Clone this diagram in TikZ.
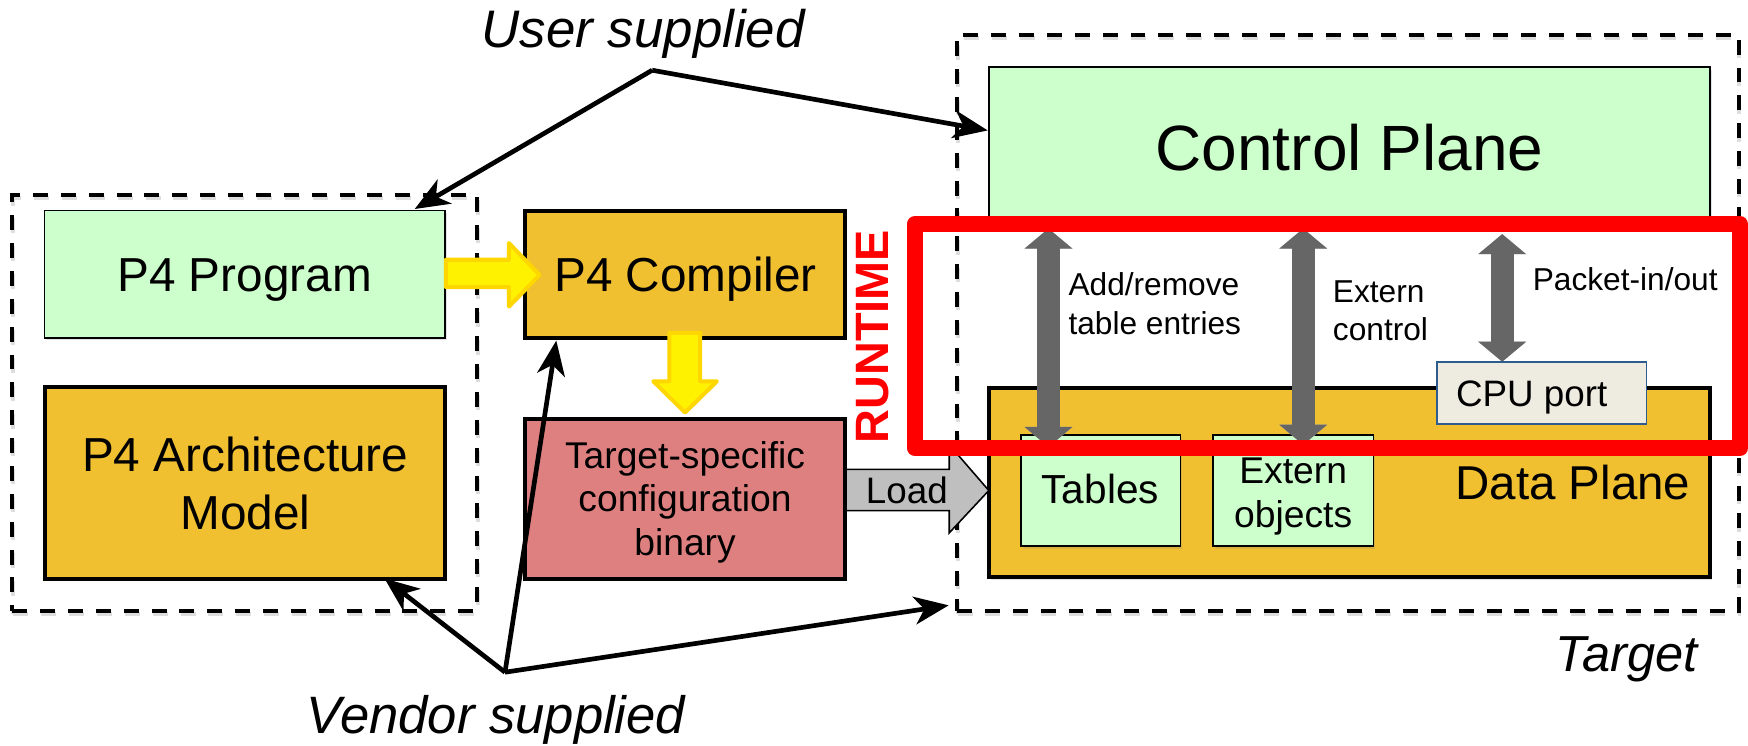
\documentclass[tikz,border=0pt]{standalone}
\usepackage{fontspec}
\setmainfont{Liberation Sans}
\usetikzlibrary{arrows.meta,shadows}
\definecolor{pgreen}{HTML}{CCFFCC}
\definecolor{porange}{HTML}{F0C030}
\definecolor{ppink}{HTML}{DF8080}
\definecolor{pgray}{HTML}{666666}
\definecolor{pcpu}{HTML}{EEECE1}
\definecolor{pblue}{HTML}{2F5C8F}
\definecolor{pyedge}{HTML}{FFD700}
\newcommand{\fs}[1]{\fontsize{#1}{34}\selectfont}
\tikzset{
  x=0.5pt,y=-0.5pt,
  softshadow/.style={drop shadow={opacity=.22,shadow xshift=.8pt,shadow yshift=-1.2pt}},
  boxbase/.style={anchor=north west,inner sep=0pt,outer sep=0pt},
  thickbox/.style={boxbase,draw=black,line width=1.8pt,fill=porange,softshadow},
  thinbox/.style={boxbase,draw=black,line width=.7pt,fill=pgreen,softshadow},
  dashbox/.style={boxbase,draw=black,line width=1.8pt,dash pattern=on 6.7pt off 5.8pt},
  dashshade/.style={boxbase,draw=black!13,line width=1.8pt,dash pattern=on 6.7pt off 5.8pt},
  pointer/.style={draw=black,line width=2.1pt,-{Stealth[length=15.5pt,width=12.5pt,inset=4.5pt]}},
  dbl/.style={draw=pgray,line width=10.5pt,{Triangle[length=9pt,width=21pt]}-{Triangle[length=9pt,width=21pt]}},
  dblshade/.style={draw=black!25,line width=10.5pt,{Triangle[length=9pt,width=21pt]}-{Triangle[length=9pt,width=21pt]}},
  yarrow/.style={draw=pyedge,line width=1.8pt,fill=yellow,line join=round},
  lbl/.style={anchor=base,inner sep=0pt,outer sep=0pt,align=center},
  lblw/.style={anchor=base west,inner sep=0pt,outer sep=0pt},
}
\begin{document}
\begin{tikzpicture}
\useasboundingbox (0,0) rectangle (1568,668.3);
\fill[white] (0,0) rectangle (1568,668.3);
% dashed containers
\node[dashshade,minimum width=208.5pt,minimum height=186.5pt] (leftshade) at (12,178) {};
\node[dashshade,minimum width=350.5pt,minimum height=258.5pt] (rightshade) at (859,34) {};
\node[dashbox,minimum width=208.5pt,minimum height=186.5pt] (leftgroup) at (11,175) {};
\node[dashbox,minimum width=350.5pt,minimum height=258.5pt] (target) at (858.5,31) {};
% boxes
\node[thinbox,minimum width=179.5pt,minimum height=57pt] (prog) at (40,189) {};
\node[thickbox,minimum width=179.5pt,minimum height=86pt] (arch) at (40,347) {};
\node[thickbox,minimum width=143.5pt,minimum height=57pt] (comp) at (471,189) {};
\node[thinbox,minimum width=323.5pt,minimum height=67.5pt] (cp) at (887,60) {};
\node[thickbox,minimum width=323.5pt,minimum height=85pt] (dp) at (887,348) {};
\node[thinbox,minimum width=71.5pt,minimum height=50pt] (tab) at (916,390) {};
\node[thinbox,minimum width=72pt,minimum height=50pt] (ext) at (1088,390) {};
% load arrow, under the binary box
\coordinate (loadtip) at (887,440);
\path[draw=black,line width=.7pt,fill=black!25] (755,421) -- (851.5,421) -- (851.5,399) -- (loadtip) -- (851.5,478) -- (851.5,458) -- (755,458) -- cycle;
\node[lbl,font=\fs{16.5}] (load) at (813.5,452) {Load};
\node[thickbox,fill=ppink,minimum width=143.5pt,minimum height=71.5pt] (bin) at (471,376) {};
% gray double arrows (shade, then arrow)
\coordinate (a1t) at (940.5,205); \coordinate (a1b) at (940.5,401);
\coordinate (a2t) at (1169,205); \coordinate (a2b) at (1169,399);
\coordinate (a3t) at (1347.5,210);
\coordinate (a3b) at (1347.5,324.5);
\draw[dblshade,shift={(1.5,2)}] (a1t) -- (a1b);
\draw[dblshade,shift={(1.5,2)}] (a2t) -- (a2b);
\draw[dblshade,shift={(1.5,2)}] (a3t) -- (a3b);
\draw[dbl] (a1t) -- (a1b);
\draw[dbl] (a2t) -- (a2b);
\draw[dbl] (a3t) -- (a3b);
\node[boxbase,draw=pblue,line width=.8pt,fill=pcpu,minimum width=94pt,minimum height=27.5pt] (cpu) at (1289,325) {};
% yellow arrows
\path[yarrow,drop shadow={opacity=.2,shadow xshift=.6pt,shadow yshift=-.8pt}] (400,233) -- (456.5,233) -- (456.5,218) -- (484,246.7) -- (456.5,275) -- (456.5,257.5) -- (400,257.5) -- cycle;
\path[yarrow,drop shadow={opacity=.2,shadow xshift=.6pt,shadow yshift=-.8pt}] (600.5,298.5) -- (628,298.5) -- (628,342) -- (643,342) -- (614.5,370) -- (586,342) -- (600.5,342) -- cycle;
% text in boxes
\node[lbl,font=\fs{21.4}] (progt) at (219.5,261.6) {P4 Program};
\node[lbl,font=\fs{21.4}] (archt1) at (220,423) {P4 Architecture};
\node[lbl,font=\fs{21.4}] (archt2) at (220,475) {Model};
\node[lbl,font=\fs{21.4}] (compt) at (615,261.6) {P4 Compiler};
\node[lbl,font=\fs{16.7}] (bint1) at (614.5,420) {Target-specific};
\node[lbl,font=\fs{16.7}] (bint2) at (614.5,459) {configuration};
\node[lbl,font=\fs{16.7}] (bint3) at (614.5,498) {binary};
\node[lbl,font=\fs{28.7}] (cpt) at (1210.5,152.5) {Control Plane};
\node[lbl,font=\fs{21.3}] (dpt) at (1411,448.4) {Data Plane};
\node[lbl,font=\fs{18.2}] (tabt) at (987,451.5) {Tables};
\node[lbl,font=\fs{16.7}] (extt1) at (1160,433.5) {Extern};
\node[lbl,font=\fs{16.7}] (extt2) at (1160,473) {objects};
\node[lbl,font=\fs{16.5}] (cput) at (1374,364.5) {CPU port};
% labels on double arrows
\node[lblw,font=\fs{14.2}] (addt1) at (958.5,265.5) {Add/remove};
\node[lblw,font=\fs{14.2}] (addt2) at (958.5,299.7) {table entries};
\node[lblw,font=\fs{14.2}] (ctl1) at (1195.7,271.5) {Extern};
\node[lblw,font=\fs{14.2}] (ctl2) at (1195.7,305.5) {control};
\node[lblw,font=\fs{14.2}] (pkt) at (1375,260.7) {Packet-in/out};
% runtime
\node[inner sep=0pt,rotate=90,text=red,font=\fs{21}\bfseries] (runtime) at (783,302) {RUNTIME};
% outer labels
\node[lbl,font=\fs{23.7}\itshape] (user) at (577,43) {User supplied};
\node[lbl,font=\fs{23.6}\itshape] (vendor) at (445,658) {Vendor supplied};
\node[lbl,font=\fs{22.7}\itshape] (tgt) at (1459,602) {Target};
% pointers
\coordinate (userpt) at (585,63);
\coordinate (vendorpt) at (453,603);
\coordinate (cptip) at (886,117);
\coordinate (progtip) at (372,187.5);
\coordinate (comptip) at (499,305.5);
\coordinate (archtip) at (345,519);
\coordinate (targettip) at (851,543);
\draw[pointer] (userpt) -- (cptip);
\draw[pointer] (userpt) -- (progtip);
\draw[pointer] (vendorpt) -- (comptip);
\draw[pointer] (vendorpt) -- (archtip);
\draw[pointer] (vendorpt) -- (targettip);
% red frame
\node[boxbase,draw=red,line width=7pt,line join=round,minimum width=370.25pt,minimum height=100.5pt] (rt) at (820.5,201) {};
\end{tikzpicture}
\end{document}
